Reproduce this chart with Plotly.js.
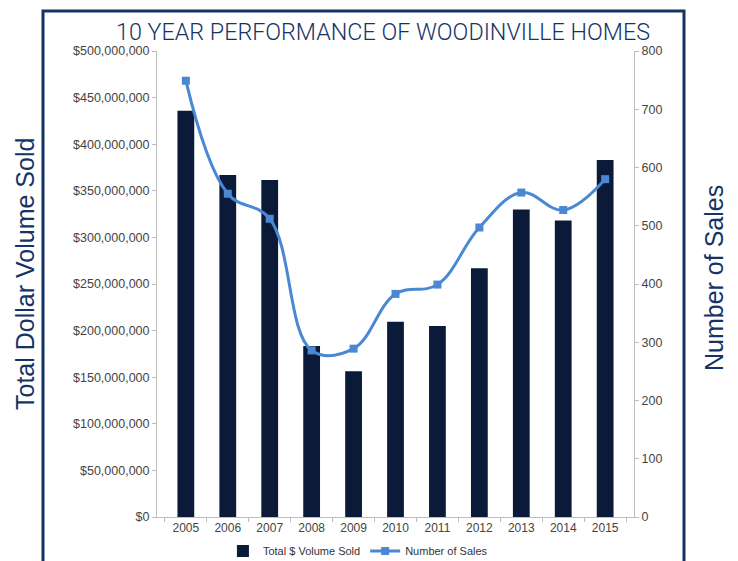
<!DOCTYPE html>
<html>
<head>
<meta charset="utf-8">
<script src="https://cdn.plot.ly/plotly-3.0.1.min.js"></script>
<style>
html,body{margin:0;padding:0;background:#fff;}
#chart{width:738px;height:561px;}
</style>
</head>
<body>
<div id="chart"></div>
<script>
const years = ['2005','2006','2007','2008','2009','2010','2011','2012','2013','2014','2015'];
const volumeSold = [436000000, 367000000, 361500000, 183500000, 156500000, 209500000, 205000000, 267000000, 330000000, 318000000, 383000000];
const numberOfSales = [749, 555, 512, 286, 289, 383, 399, 497, 557, 527, 580];
const leftTickVals = [0, 50000000, 100000000, 150000000, 200000000, 250000000, 300000000, 350000000, 400000000, 450000000, 500000000];
const leftTickText = ['$0','$50,000,000','$100,000,000','$150,000,000','$200,000,000','$250,000,000','$300,000,000','$350,000,000','$400,000,000','$450,000,000','$500,000,000'];
const rightTickVals = [0,100,200,300,400,500,600,700,800];

const navy = '#0b1a38';
const frameNavy = '#143466';
const lineBlue = '#4a88d4';

const traces = [
  {
    type: 'bar', name: 'Total $ Volume Sold', x: years, y: volumeSold,
    marker: {color: navy}, width: 0.4, yaxis: 'y'
  },
  {
    type: 'scatter', mode: 'lines+markers', name: 'Number of Sales', x: years, y: numberOfSales,
    yaxis: 'y2', line: {color: lineBlue, width: 3, shape: 'spline', smoothing: 1.1},
    marker: {symbol: 'square', size: 8, color: lineBlue}
  }
];

const layout = {
  width: 738, height: 561,
  margin: {l: 157, r: 104, t: 51, b: 44, autoexpand: false},
  paper_bgcolor: '#fff', plot_bgcolor: '#fff',
  font: {family: 'Liberation Sans, Arial, sans-serif', color: '#444', size: 11},
  showlegend: true,
  title: {
    text: '10 YEAR PERFORMANCE OF WOODINVILLE HOMES',
    font: {family: 'Roboto, sans-serif', size: 23.3, color: frameNavy, weight: 300},
    x: 0.519, xref: 'container', xanchor: 'center',
    y: 0.944, yref: 'container', yanchor: 'middle'
  },
  xaxis: {
    type: 'category', showline: true, linecolor: '#bdbdbd', linewidth: 1,
    ticks: 'outside', ticklen: 4, tickcolor: '#bdbdbd', tickson: 'boundaries',
    showgrid: false, zeroline: false, automargin: false,
    tickfont: {size: 12, color: '#444'}
  },
  yaxis: {
    range: [0, 500000000], tickvals: leftTickVals, ticktext: leftTickText,
    showline: true, linecolor: '#bdbdbd', linewidth: 1,
    ticks: 'outside', ticklen: 4, tickcolor: '#bdbdbd',
    showgrid: false, zeroline: false, automargin: false,
    tickfont: {size: 12.5, color: '#444'}
  },
  yaxis2: {
    range: [0, 800], tickvals: rightTickVals, overlaying: 'y', side: 'right',
    showline: true, linecolor: '#bdbdbd', linewidth: 1,
    ticks: 'outside', ticklen: 4, tickcolor: '#bdbdbd',
    showgrid: false, zeroline: false, automargin: false,
    tickfont: {size: 12.5, color: '#444'}
  },
  legend: {
    orientation: 'h', x: 0.485, xref: 'container', xanchor: 'center',
    y: 0.018, yref: 'container', yanchor: 'middle',
    font: {size: 11, color: '#333'}, bgcolor: 'rgba(0,0,0,0)',
    itemwidth: 30, tracegroupgap: 0
  },
  annotations: [
    {
      text: 'Total Dollar Volume Sold', textangle: -90,
      xref: 'paper', yref: 'paper', x: (25 - 157) / 477, y: (517 - 274) / 466,
      xanchor: 'center', yanchor: 'middle', showarrow: false,
      font: {family: 'Liberation Sans, Arial, sans-serif', size: 25, color: frameNavy}
    },
    {
      text: 'Number of Sales', textangle: -90,
      xref: 'paper', yref: 'paper', x: (714 - 157) / 477, y: (517 - 278) / 466,
      xanchor: 'center', yanchor: 'middle', showarrow: false,
      font: {family: 'Liberation Sans, Arial, sans-serif', size: 25, color: frameNavy}
    }
  ],
  shapes: [
    {
      type: 'rect', xref: 'paper', yref: 'paper',
      x0: (43 - 157) / 477, x1: (684 - 157) / 477,
      y0: (517 - 600) / 466, y1: (517 - 11) / 466,
      line: {color: frameNavy, width: 3}, fillcolor: 'rgba(0,0,0,0)', layer: 'below'
    }
  ]
};

Plotly.newPlot('chart', traces, layout, {displayModeBar: false, staticPlot: true});
</script>
</body>
</html>
